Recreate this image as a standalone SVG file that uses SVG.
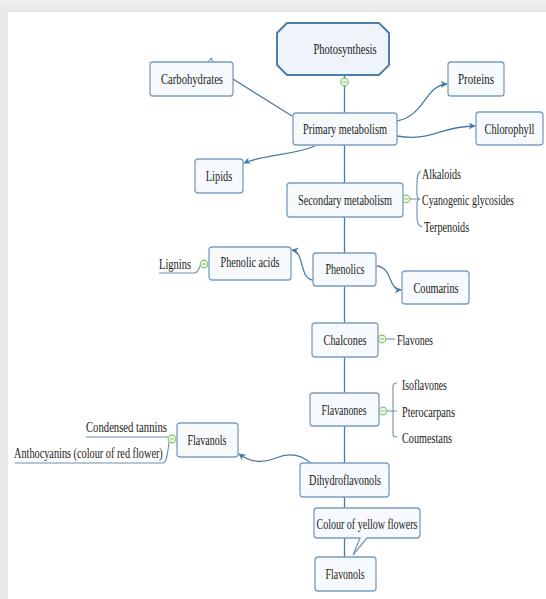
<svg xmlns="http://www.w3.org/2000/svg" width="546" height="599" viewBox="0 0 546 599">
<defs>
<marker id="arr" viewBox="0 0 10 10" refX="9" refY="5" markerWidth="7" markerHeight="7" orient="auto" markerUnits="userSpaceOnUse">
<path d="M0,0 L10,5 L0,10 L3,5 Z" fill="#4a7ba2"/>
</marker>
<linearGradient id="topg" x1="0" y1="0" x2="0" y2="1">
<stop offset="0" stop-color="#f2f2f2"/>
<stop offset="1" stop-color="#e6e6e6"/>
</linearGradient>
</defs>
<style>
.box{fill:#f7fafd;stroke:#7c9dbe;stroke-width:1.3}
.main{fill:#eef4fa;stroke:#4f7fa8;stroke-width:2}
.t{font-family:"Liberation Serif","Times New Roman",serif;font-size:15px;fill:#1a1a1a}
.c{text-anchor:middle}
.ln{fill:none;stroke:#4a7ba2;stroke-width:1.3}
.gc{fill:#eef8e8;stroke:#86c46f;stroke-width:1.2}
.gm{stroke:#86c46f;stroke-width:1}
.br{fill:none;stroke:#6c8fb0;stroke-width:1.1}
</style>
<rect x="0" y="0" width="546" height="599" fill="#e9e9e9"/>
<rect x="0" y="0" width="546" height="12" fill="url(#topg)"/>
<rect x="8" y="12" width="538" height="587" fill="#ffffff"/>

<g id="connectors">
<line class="ln" x1="344.5" y1="75" x2="344.5" y2="557"/>
<path class="ln" d="M292,116 L233,79"/>
<path class="ln" d="M397,121 C425,116 425,85 447,84" marker-end="url(#arr)"/>
<path class="ln" d="M397,136 C432,142 440,126 475,126" marker-end="url(#arr)"/>
<path class="ln" d="M315,146 C295,155 266,154 244,163" marker-end="url(#arr)"/>
<path class="ln" d="M313,280 C299,279 305,252 292,250" marker-end="url(#arr)"/>
<path class="ln" d="M377,266 C393,268 388,290 401,290" marker-end="url(#arr)"/>
<path class="ln" d="M312,464 C302,455 290,452 276,458 C262,464 250,462 239,454" marker-end="url(#arr)"/>
<path d="M208,62 L211,58 L213,62" fill="none" stroke="#4a7ba2" stroke-width="1"/>
<path class="br" d="M410,199 H420 M420,199 C416,199 417,194 417,184 C417,175 418,172 421,171 M420,199 C416,199 417,205 417,214 C417,223 418,226 422,227"/>
<path class="br" d="M387,411 H397 M393,411 V386 Q393,383 397,383 M393,411 V434 Q393,437 397,437"/>
<path class="br" d="M386,339 H395"/>
<path class="br" d="M159,273 H194 C199,273 199,266 201,265"/>
<path class="br" d="M86,437 H168"/>
<path class="br" d="M15,463 H163 C167,463 168,450 169,442"/>
<circle class="gc" cx="344.5" cy="82" r="3.8"/><path class="gm" d="M342.5,82 H346.5"/>
<circle class="gc" cx="406" cy="199" r="3.8"/><path class="gm" d="M404,199 H408"/>
<circle class="gc" cx="204" cy="264" r="3.8"/><path class="gm" d="M202,264 H206"/>
<circle class="gc" cx="382" cy="339" r="3.8"/><path class="gm" d="M380,339 H384"/>
<circle class="gc" cx="383" cy="411" r="3.8"/><path class="gm" d="M381,411 H385"/>
<circle class="gc" cx="172" cy="439" r="3.8"/><path class="gm" d="M170,439 H174"/>
</g>

<g id="photosynthesis">
<path class="main" d="M287,23 H379 L389,33 V65 L379,75 H287 L277,65 V33 Z"/>
<text class="t c" transform="translate(345,54) scale(0.70,1)">Photosynthesis</text>
</g>
<g id="carbohydrates">
<rect class="box" x="150" y="62" width="83" height="34" rx="3"/>
<text class="t c" transform="translate(192,84) scale(0.709,1)">Carbohydrates</text>
</g>
<g id="proteins">
<rect class="box" x="448" y="62" width="56" height="34" rx="3"/>
<text class="t c" transform="translate(476,84) scale(0.732,1)">Proteins</text>
</g>
<g id="primary">
<rect class="box" x="293" y="113" width="104" height="32" rx="3"/>
<text class="t c" transform="translate(345,134) scale(0.688,1)">Primary metabolism</text>
</g>
<g id="chlorophyll">
<rect class="box" x="476" y="112" width="67" height="33" rx="3"/>
<text class="t c" transform="translate(509.5,134) scale(0.69,1)">Chlorophyll</text>
</g>
<g id="lipids">
<rect class="box" x="195" y="159" width="48" height="34" rx="3"/>
<text class="t c" transform="translate(219,181) scale(0.69,1)">Lipids</text>
</g>
<g id="secondary">
<rect class="box" x="287" y="183" width="116" height="34" rx="3"/>
<text class="t c" transform="translate(345,205) scale(0.686,1)">Secondary metabolism</text>
</g>
<g id="secondary-items">
<text class="t" transform="translate(422,179) scale(0.669,1)">Alkaloids</text>
<text class="t" transform="translate(422,205) scale(0.663,1)">Cyanogenic glycosides</text>
<text class="t" transform="translate(424,232) scale(0.68,1)">Terpenoids</text>
</g>
<g id="phenolic-acids">
<rect class="box" x="209" y="247" width="82" height="33" rx="3"/>
<text class="t c" transform="translate(250,267) scale(0.677,1)">Phenolic acids</text>
</g>
<g id="lignins">
<text class="t" transform="translate(159,269) scale(0.70,1)">Lignins</text>
</g>
<g id="phenolics">
<rect class="box" x="313" y="253" width="63" height="33" rx="3"/>
<text class="t c" transform="translate(345,274) scale(0.669,1)">Phenolics</text>
</g>
<g id="coumarins">
<rect class="box" x="402" y="271" width="67" height="33" rx="3"/>
<text class="t c" transform="translate(436,293) scale(0.684,1)">Coumarins</text>
</g>
<g id="chalcones">
<rect class="box" x="312" y="323" width="66" height="34" rx="3"/>
<text class="t c" transform="translate(345,345) scale(0.688,1)">Chalcones</text>
</g>
<g id="flavones">
<text class="t" transform="translate(397,345) scale(0.665,1)">Flavones</text>
</g>
<g id="flavanones">
<rect class="box" x="310" y="393" width="69" height="33" rx="3"/>
<text class="t c" transform="translate(344,415) scale(0.659,1)">Flavanones</text>
</g>
<g id="flavanones-items">
<text class="t" transform="translate(402,390) scale(0.65,1)">Isoflavones</text>
<text class="t" transform="translate(402,417) scale(0.684,1)">Pterocarpans</text>
<text class="t" transform="translate(402,443) scale(0.682,1)">Coumestans</text>
</g>
<g id="flavanols">
<rect class="box" x="177" y="423" width="61" height="34" rx="3"/>
<text class="t c" transform="translate(207,445) scale(0.669,1)">Flavanols</text>
</g>
<g id="flavanols-items">
<text class="t" transform="translate(86,432) scale(0.712,1)">Condensed tannins</text>
<text class="t" transform="translate(14,458) scale(0.685,1)">Anthocyanins (colour of red flower)</text>
</g>
<g id="dihydroflavonols">
<rect class="box" x="300" y="463" width="89" height="34" rx="3"/>
<text class="t c" transform="translate(345,485) scale(0.68,1)">Dihydroflavonols</text>
</g>
<g id="yellow-callout">
<path class="box" d="M317,508 H417 Q420,508 420,511 V535 Q420,538 417,538 H367 L353,555 L360,538 H317 Q314,538 314,535 V511 Q314,508 317,508 Z"/>
<text class="t c" transform="translate(367,529) scale(0.668,1)">Colour of yellow flowers</text>
</g>
<g id="flavonols">
<rect class="box" x="315" y="557" width="61" height="34" rx="3"/>
<text class="t c" transform="translate(345,579) scale(0.66,1)">Flavonols</text>
</g>
</svg>
